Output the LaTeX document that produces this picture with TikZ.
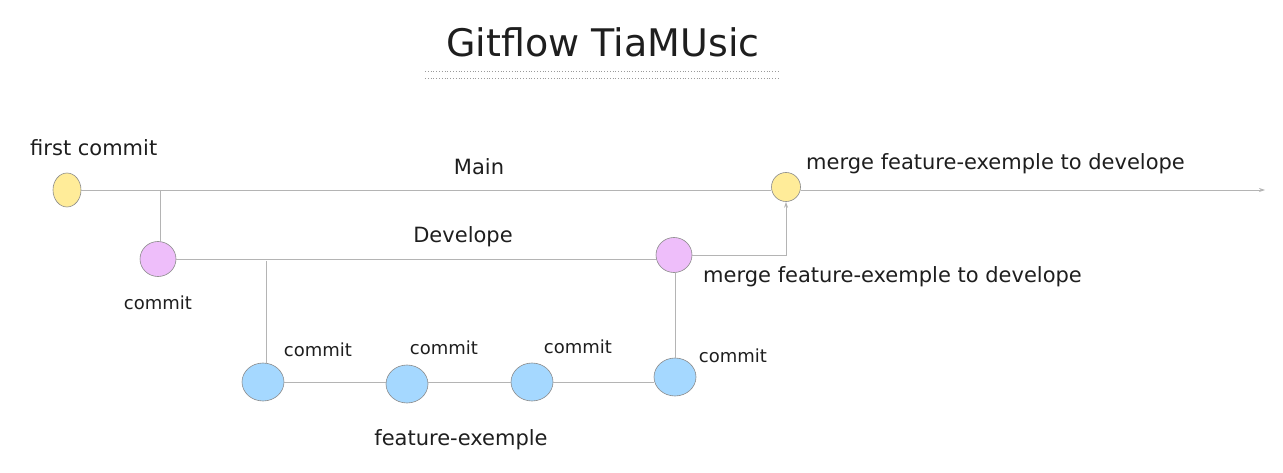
\documentclass[tikz,border=0pt]{standalone}
\usepackage{fontspec}
\setmainfont{DejaVu Sans}
\usetikzlibrary{shapes.geometric,arrows.meta}
\definecolor{cyel}{HTML}{FFEC99}
\definecolor{cpink}{HTML}{EEBEFA}
\definecolor{cblue}{HTML}{A5D8FF}
\definecolor{cstroke}{HTML}{8A8A8A}
\definecolor{cline}{HTML}{B4B4B4}
\definecolor{cdot}{HTML}{9A9A9A}
\definecolor{ctext}{HTML}{1E1E1E}
\begin{document}
\begin{tikzpicture}[x=1pt,y=-1pt,
  commitdot/.style={ellipse,draw=cstroke,line width=0.6pt,inner sep=0pt},
  yel/.style={commitdot,fill=cyel,minimum width=28,minimum height=34},
  pink/.style={commitdot,fill=cpink,minimum width=36,minimum height=35},
  blue/.style={commitdot,fill=cblue,minimum width=42,minimum height=38},
  conn/.style={draw=cline,line width=0.8pt},
  lbl/.style={text=ctext,inner sep=0pt,font=\fontsize{21}{25}\selectfont},
  small/.style={lbl,font=\fontsize{18}{22}\selectfont},
  tip/.style={-{Stealth[length=6pt,width=4pt]}}
]
\useasboundingbox (0,0) rectangle (1283,473);
% title
\node[text=ctext,inner sep=0pt,font=\fontsize{38}{44}\selectfont] (title) at (603,42) {Gitflow TiaMUsic};
\draw[cdot,dotted,line width=0.8pt] (425,71) -- (780,71);
\draw[cdot,dotted,line width=0.8pt] (425,78) -- (780,78);
% coordinates
\coordinate (mainend) at (1265,190);
\coordinate (b1) at (160,190);
\coordinate (b2) at (266,261);
% nodes
\node[yel] (c1) at (67,190) {};
\node[yel,minimum width=29,minimum height=29] (m1) at (786,187) {};
\node[pink] (d1) at (158,259) {};
\node[pink] (d2) at (674,255) {};
\node[blue] (f1) at (263,382) {};
\node[blue] (f2) at (407,384) {};
\node[blue] (f3) at (532,382) {};
\node[blue] (f4) at (675,377) {};
% connectors
\path[conn] (c1.east) -- (c1.east -| m1.west);
\path[conn,tip] (c1.east -| m1.east) -- (mainend);
\path[conn] (b1) -- (b1 |- d1.north);
\path[conn] (d1.east) -- (d1.east -| d2.west);
\path[conn] (b2) -- (b2 |- f1.north);
\path[conn] (f1.east) -- (f1.east -| f2.west);
\path[conn] (f1.east -| f2.east) -- (f1.east -| f3.west);
\path[conn] (f1.east -| f3.east) -- (f1.east -| f4.west);
\path[conn] (f4.north) -- (f4.north |- d2.south);
\path[conn,tip] (d2.east) -| (m1.south);
% labels
\node[lbl,anchor=west] (l1) at (30,148) {first commit};
\node[lbl] (l2) at (479,167) {Main};
\node[lbl,anchor=west] (l3) at (806,164) {merge feature-exemple to develope};
\node[lbl] (l4) at (463,237) {Develope};
\node[small] (l5) at (158,303) {commit};
\node[lbl,anchor=west] (l6) at (703,277) {merge feature-exemple to develope};
\node[small] (l7) at (318,350) {commit};
\node[small] (l8) at (444,348) {commit};
\node[small] (l9) at (578,347) {commit};
\node[small] (l10) at (733,356) {commit};
\node[lbl] (l11) at (461,440) {feature-exemple};
\end{tikzpicture}
\end{document}
